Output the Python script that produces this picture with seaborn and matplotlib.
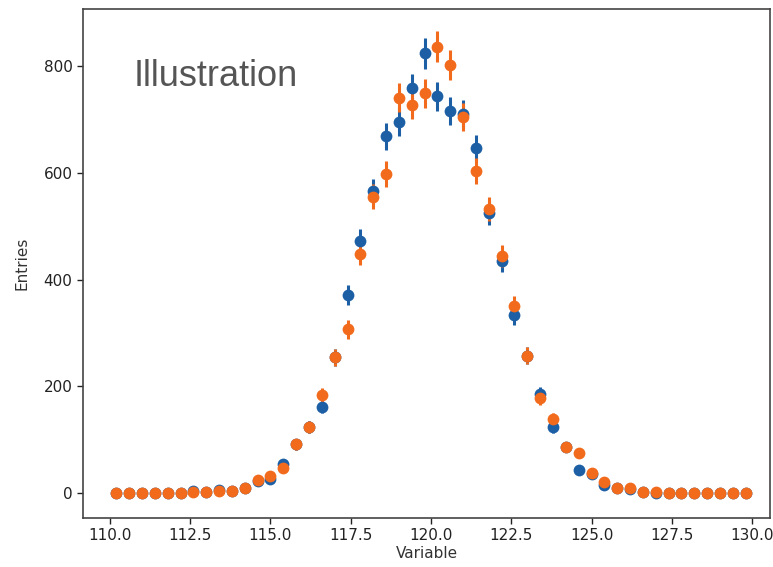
import numpy as np
import pandas as pd
import matplotlib
matplotlib.use("Agg")
import matplotlib.pyplot as plt
import seaborn as sns

# bin centres (0.4 wide bins from 110 to 130)
bin_centers = [round(110.2 + 0.4 * i, 1) for i in range(50)]

# counts
blue_counts = [0, 0, 0, 0, 0, 0, 4, 1, 5, 4,
               9, 22, 26, 55, 91, 124, 162, 254, 371, 472,
               565, 668, 696, 758, 824, 743, 716, 710, 646, 525,
               435, 334, 257, 185, 124, 87, 43, 36, 15, 10,
               8, 2, 0, 0, 0, 0, 0, 0, 0, 0]
orange_counts = [0, 0, 0, 0, 0, 0, 1, 1, 3, 4,
                 9, 24, 32, 47, 91, 124, 184, 254, 307, 448,
                 555, 597, 741, 727, 749, 836, 802, 705, 604, 532,
                 444, 350, 257, 178, 139, 86, 75, 38, 20, 10,
                 9, 2, 2, 0, 0, 0, 0, 0, 0, 0]

series_names = ["blue", "orange"]
series_colors = ["#1c5fa5", "#f26b1d"]

df = pd.DataFrame({
    "Variable": bin_centers * 2,
    "Entries": blue_counts + orange_counts,
    "series": ["blue"] * 50 + ["orange"] * 50,
})

sns.set_style("ticks")
plt.rcParams["font.family"] = ["DejaVu Sans"]

fig = plt.figure(figsize=(7.73, 5.67), dpi=100)
ax = fig.add_axes([0.1074, 0.0864, 0.8887, 0.8977])

for name, color in zip(series_names, series_colors):
    sub = df[df["series"] == name]
    # poisson errors on the counts
    ax.errorbar(sub["Variable"], sub["Entries"], yerr=np.sqrt(sub["Entries"]),
                fmt="none", ecolor=color, elinewidth=2.2)
    sns.scatterplot(data=sub, x="Variable", y="Entries", ax=ax, color=color,
                    s=72, linewidth=0, zorder=3, legend=False)

ax.set_xlim(109.16, 130.56)
ax.set_ylim(-46.8, 906.8)
ax.set_xticks([110.0, 112.5, 115.0, 117.5, 120.0, 122.5, 125.0, 127.5, 130.0])
ax.set_xticklabels(["110.0", "112.5", "115.0", "117.5", "120.0", "122.5",
                    "125.0", "127.5", "130.0"])
ax.set_yticks([0, 200, 400, 600, 800])
ax.tick_params(labelsize=11, length=4, width=1, colors="#222222")
ax.set_xlabel("Variable", fontsize=11, color="#333333", labelpad=2)
ax.set_ylabel("Entries", fontsize=11, color="#333333", labelpad=10)
for sp in ax.spines.values():
    sp.set_visible(True)
    sp.set_color("#444444")
    sp.set_linewidth(1.2)

ax.text(0.073, 0.848, "Illustration", transform=ax.transAxes,
        fontsize=26, color="#555555", family=["Liberation Sans", "DejaVu Sans"])

fig.savefig("out.png", dpi=100)
